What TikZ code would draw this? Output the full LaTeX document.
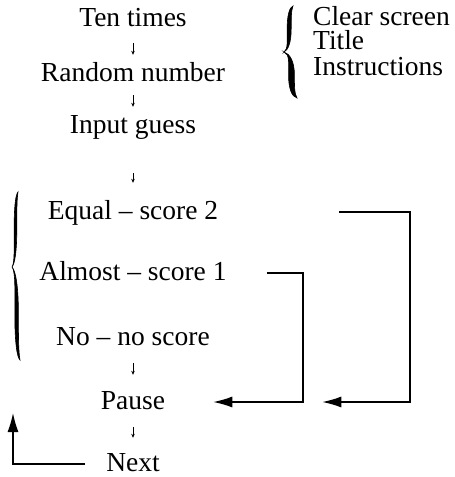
\documentclass[tikz,border=0pt]{standalone}
\usepackage{fontspec}
\setmainfont{Liberation Serif}
\usetikzlibrary{positioning,arrows.meta}

\tikzset{
  bracearm/.pic={
    \filldraw[line width=0.6pt] (0,0) .. controls (0.45,0.05) and (0.35,0.25) .. (0.35,0.5)
      .. controls (0.35,0.8) and (0.6,0.97) .. (1,1)
      .. controls (0.8,0.9) and (0.8,0.75) .. (0.8,0.5)
      .. controls (0.8,0.2) and (0.45,0.04) .. (0,0) -- cycle;
  }
}

\begin{document}
\begin{tikzpicture}[x=1pt, y=-1pt, on grid,
    item/.style={font=\fontsize{27.5}{30}\selectfont, inner sep=0pt, text height=18pt, text depth=4pt},
    downarrow/.style={-{Stealth[length=4pt,width=3.5pt]}, line width=0.6pt},
    feedback/.style={-{Latex[length=19pt,width=11pt]}, line width=1.3pt}
]
    \useasboundingbox (0,0) rectangle (455,477);

    % main column
    \node [item] (ten) at (133,19) {Ten times};
    \node [item, below=55pt of ten] (random) {Random number};
    \node [item, below=52pt of random] (input) {Input guess};
    \node [item, below=86pt of input] (equal) {Equal -- score 2};
    \node [item, below=61pt of equal] (almost) {Almost -- score 1};
    \node [item, below=65pt of almost] (nothing) {No -- no score};
    \node [item, below=64pt of nothing] (pause) {Pause};
    \node [item, below=62pt of pause] (next) {Next};

    % set-up list
    \node [item, anchor=base west] (clear) at (313,25) {Clear screen};
    \node [item, below=24.5pt of clear.base west, anchor=base west] (title) {Title};
    \node [item, below=25.5pt of title.base west, anchor=base west] (instr) {Instructions};

    % braces
    \pic [xscale=9, yscale=-46] at (284,52) {bracearm};
    \pic [xscale=13, yscale=46] at (284,52) {bracearm};
    \pic [xscale=6, yscale=-75] at (12,267) {bracearm};
    \pic [xscale=8, yscale=93] at (12,267) {bracearm};

    % small arrows
    \draw [downarrow, shorten <=13pt, shorten >=8pt] (ten) -- (random);
    \draw [downarrow, shorten <=10pt, shorten >=8pt] (random) -- (input);
    \draw [downarrow, shorten <=36pt, shorten >=18pt] (input) -- (equal);
    \draw [downarrow, shorten <=14pt, shorten >=16pt] (nothing) -- (pause);
    \draw [downarrow, shorten <=14pt, shorten >=15pt] (pause) -- (next);

    % score lines back to pause
    \coordinate (eqcol) at (410,300);
    \coordinate (almostcol) at (303,340);
    \coordinate (loopend) at (13,413);
    \draw [feedback, shorten <=121pt, shorten >=157pt] (equal.east) -| (eqcol) |- (pause.east);
    \draw [feedback, shorten <=40pt, shorten >=48pt] (almost.east) -| (almostcol) |- (pause.east);
    \draw [feedback, shorten <=21pt] (next.west) -| (loopend);
\end{tikzpicture}
\end{document}
